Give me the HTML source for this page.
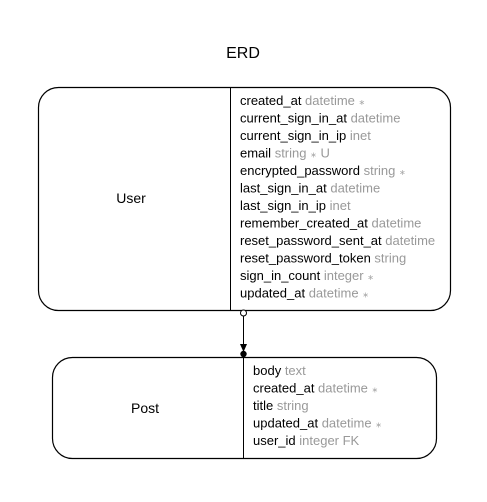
<!DOCTYPE html>
<html><head><style>
body{margin:0;background:#fff;width:487px;height:497px;overflow:hidden}
svg text{font-family:"Liberation Sans",Arial,sans-serif}
.k{fill:#000;font-size:13px}.t{fill:#999}.s{font-size:8px;fill:#aaa}
</style></head><body>
<svg width="487" height="497" viewBox="0 0 487 497">
<text x="243" y="58" text-anchor="middle" font-size="16">ERD</text>
<rect x="38.5" y="87.5" width="412" height="223" rx="20" fill="none" stroke="#000" stroke-width="1.2"/>
<line x1="230.5" y1="87.5" x2="230.5" y2="310.5" stroke="#000"/>
<text x="131" y="203" text-anchor="middle" font-size="14">User</text>
<g class="k">
<text x="240" y="105">created_at <tspan class="t">datetime</tspan> <tspan class="s">∗</tspan></text>
<text x="240" y="122.5">current_sign_in_at <tspan class="t">datetime</tspan></text>
<text x="240" y="140">current_sign_in_ip <tspan class="t">inet</tspan></text>
<text x="240" y="157.5">email <tspan class="t">string</tspan> <tspan class="s">∗</tspan> <tspan class="t">U</tspan></text>
<text x="240" y="175">encrypted_password <tspan class="t">string</tspan> <tspan class="s">∗</tspan></text>
<text x="240" y="192.5">last_sign_in_at <tspan class="t">datetime</tspan></text>
<text x="240" y="210">last_sign_in_ip <tspan class="t">inet</tspan></text>
<text x="240" y="227.5">remember_created_at <tspan class="t">datetime</tspan></text>
<text x="240" y="245">reset_password_sent_at <tspan class="t">datetime</tspan></text>
<text x="240" y="262.5">reset_password_token <tspan class="t">string</tspan></text>
<text x="240" y="280">sign_in_count <tspan class="t">integer</tspan> <tspan class="s">∗</tspan></text>
<text x="240" y="297.5">updated_at <tspan class="t">datetime</tspan> <tspan class="s">∗</tspan></text>
</g>
<line x1="243.5" y1="316" x2="243.5" y2="357" stroke="#000"/>
<circle cx="243.5" cy="313" r="3" fill="#fff" stroke="#000"/>
<polygon points="240,344 247,344 243.5,352" fill="#000"/>
<circle cx="243.5" cy="354" r="3.2" fill="#000"/>
<rect x="52.5" y="357.5" width="384" height="101" rx="20" fill="none" stroke="#000" stroke-width="1.2"/>
<line x1="243.5" y1="357.5" x2="243.5" y2="458.5" stroke="#000"/>
<text x="145" y="413" text-anchor="middle" font-size="14">Post</text>
<g class="k">
<text x="253" y="375">body <tspan class="t">text</tspan></text>
<text x="253" y="392.5">created_at <tspan class="t">datetime</tspan> <tspan class="s">∗</tspan></text>
<text x="253" y="410">title <tspan class="t">string</tspan></text>
<text x="253" y="427.5">updated_at <tspan class="t">datetime</tspan> <tspan class="s">∗</tspan></text>
<text x="253" y="445">user_id <tspan class="t">integer FK</tspan></text>
</g>
</svg>
</body></html>
